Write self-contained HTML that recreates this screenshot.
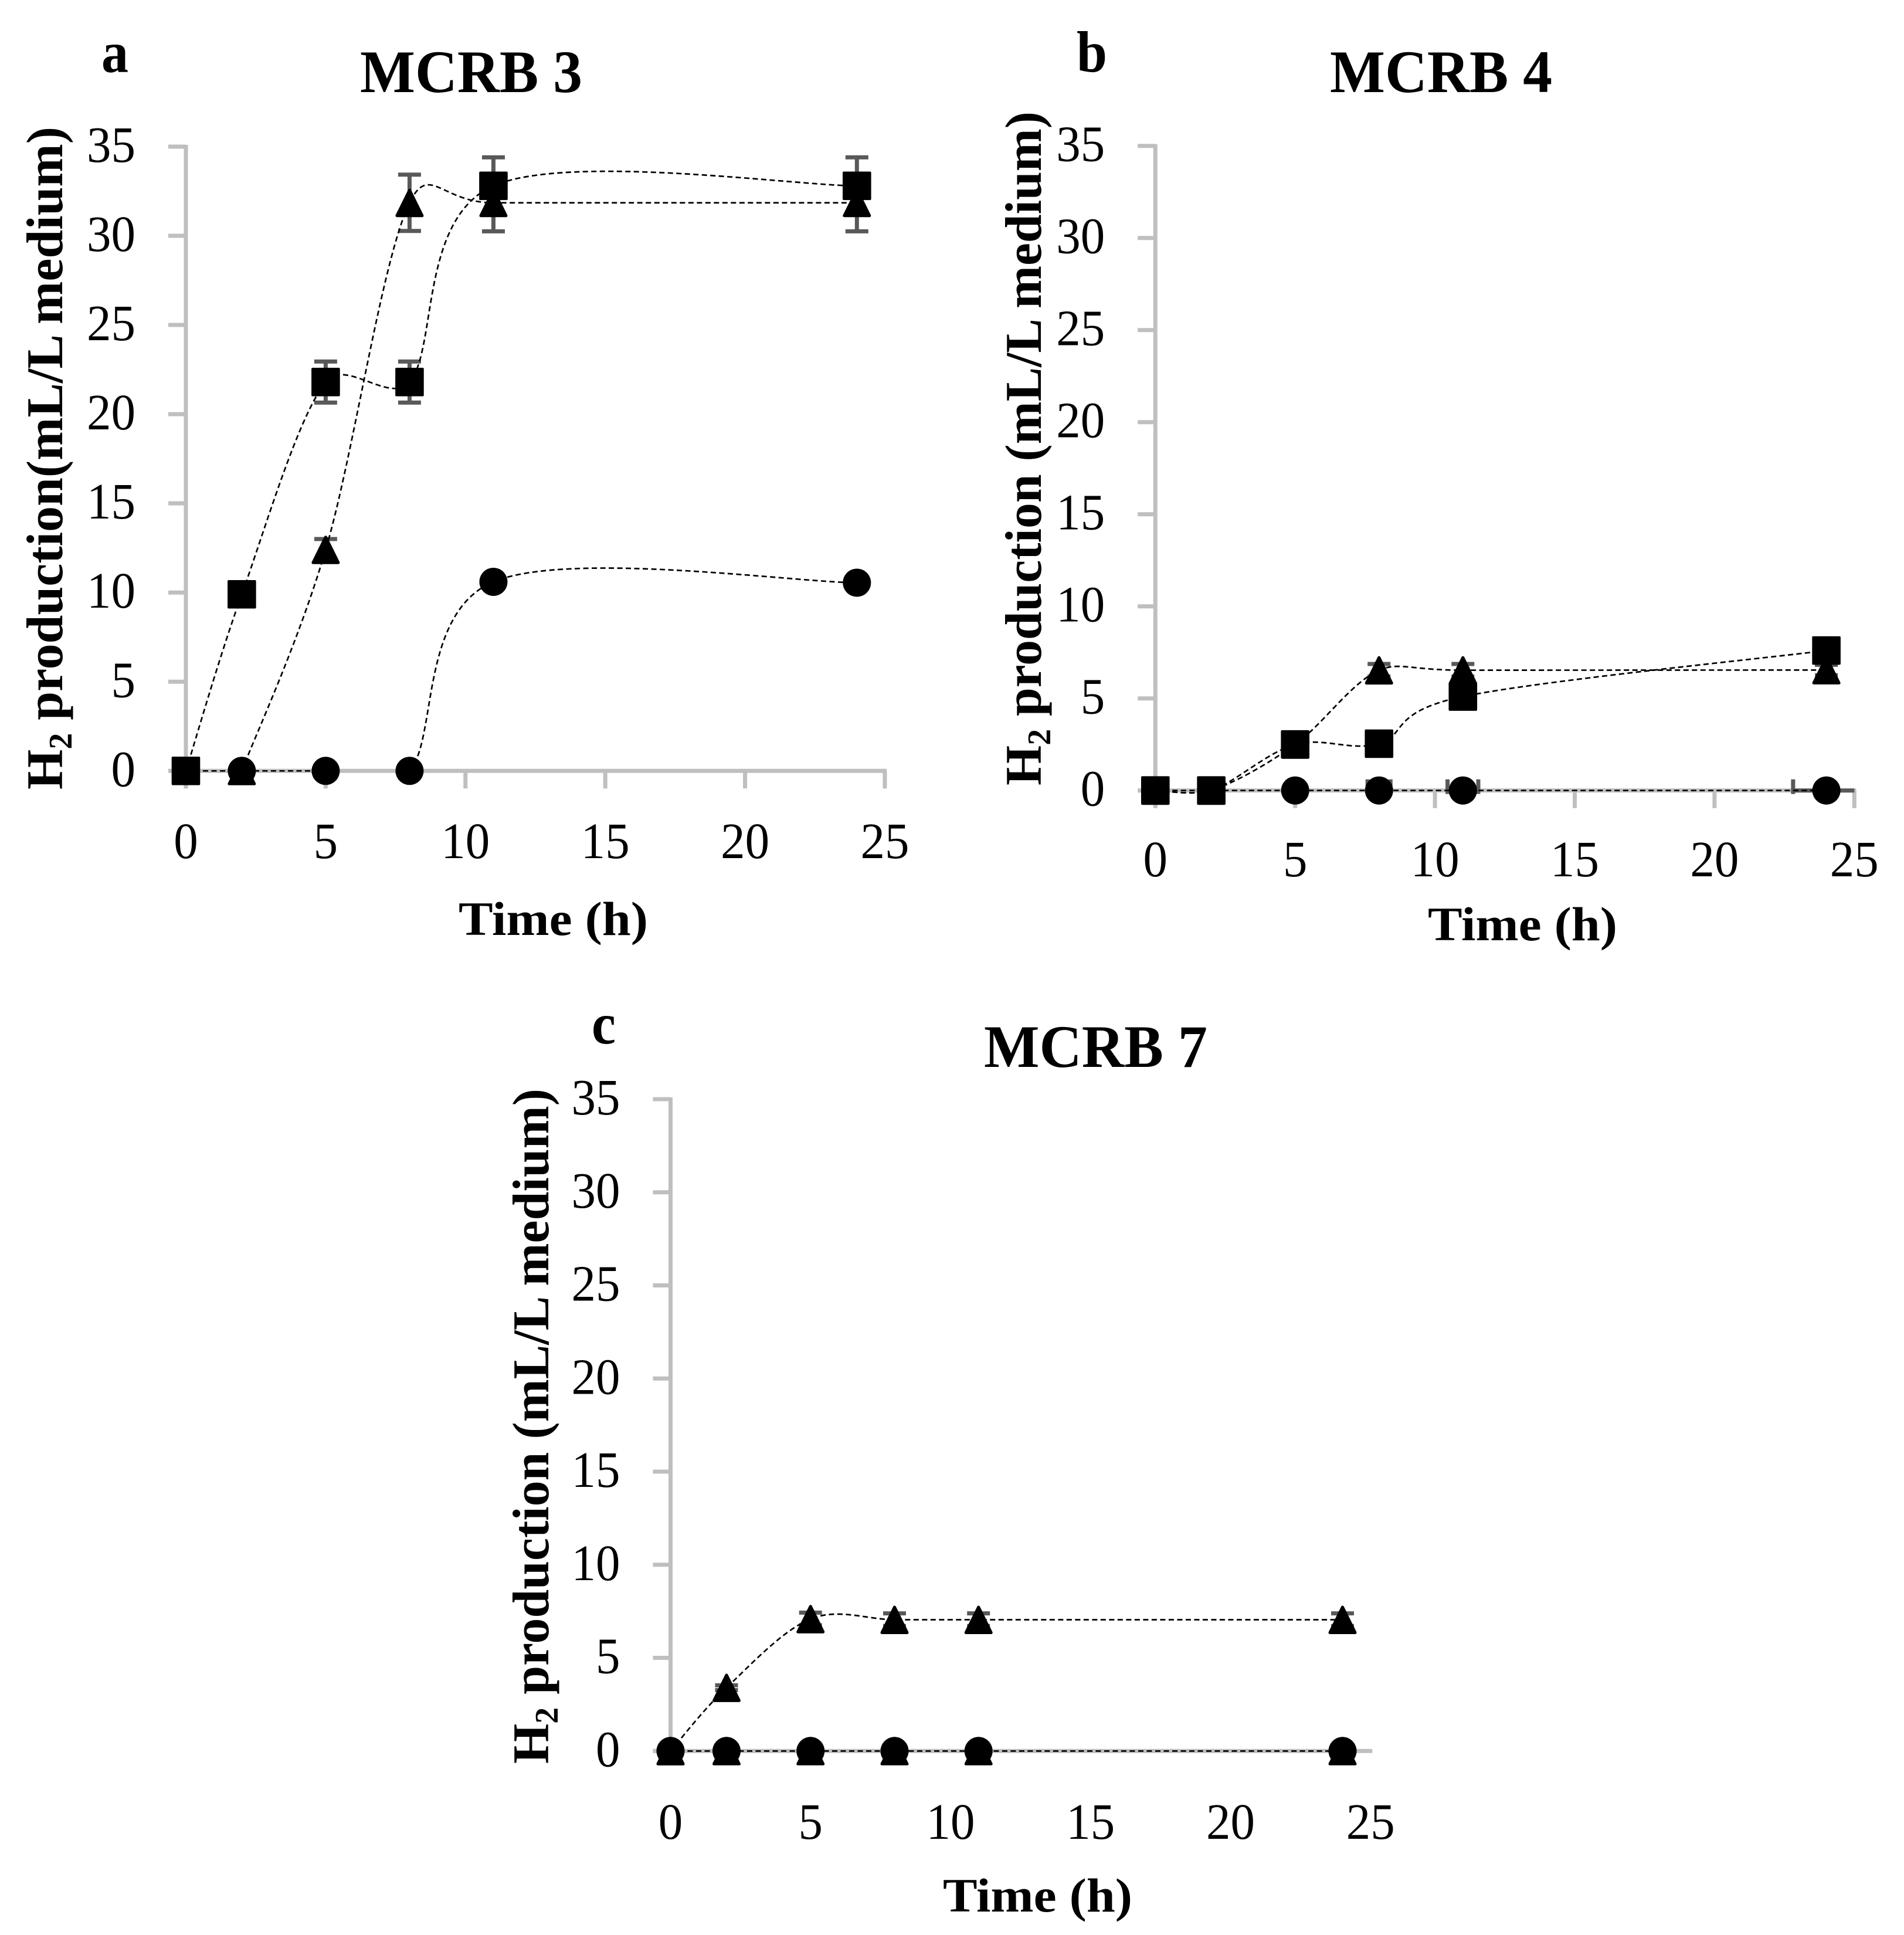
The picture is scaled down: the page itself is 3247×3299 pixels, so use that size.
<!DOCTYPE html>
<html lang="en">
<head>
<meta charset="utf-8">
<title>Hydrogen production of MCRB 3, MCRB 4 and MCRB 7</title>
<style>
html,body{margin:0;padding:0;background:#fff}
svg{display:block}
text{font-family:"Liberation Serif",serif;fill:#000}
.bold{font-weight:bold}
</style>
</head>
<body>
<svg id="figure" xmlns="http://www.w3.org/2000/svg" width="3247" height="3299" viewBox="0 0 3247 3299">
<rect width="3247" height="3299" fill="#fff"/>

<text class="bold" x="173" y="123" font-size="100" textLength="46" lengthAdjust="spacingAndGlyphs">a</text>
<text class="bold" x="614" y="157" font-size="103" textLength="379" lengthAdjust="spacingAndGlyphs">MCRB 3</text>
<text class="bold" transform="translate(106,1346) rotate(-90)" font-size="88" textLength="1130" lengthAdjust="spacingAndGlyphs">H<tspan font-size="56" dy="16">2</tspan><tspan dy="-16"> production(mL/L medium)</tspan></text>
<text class="bold" x="782" y="1594" font-size="82" textLength="323" lengthAdjust="spacingAndGlyphs">Time (h)</text>

<text class="bold" x="1836" y="122" font-size="100" textLength="52" lengthAdjust="spacingAndGlyphs">b</text>
<text class="bold" x="2268" y="157" font-size="103" textLength="379" lengthAdjust="spacingAndGlyphs">MCRB 4</text>
<text class="bold" transform="translate(1775,1339) rotate(-90)" font-size="88" textLength="1149" lengthAdjust="spacingAndGlyphs">H<tspan font-size="56" dy="16">2</tspan><tspan dy="-16"> production (mL/L medium)</tspan></text>
<text class="bold" x="2435" y="1603" font-size="82" textLength="323" lengthAdjust="spacingAndGlyphs">Time (h)</text>

<text class="bold" x="1009" y="1779" font-size="100" textLength="41" lengthAdjust="spacingAndGlyphs">c</text>
<text class="bold" x="1678" y="1819" font-size="103" textLength="381" lengthAdjust="spacingAndGlyphs">MCRB 7</text>
<text class="bold" transform="translate(935,3007) rotate(-90)" font-size="88" textLength="1151" lengthAdjust="spacingAndGlyphs">H<tspan font-size="56" dy="16">2</tspan><tspan dy="-16"> production (mL/L medium)</tspan></text>
<text class="bold" x="1608" y="3259" font-size="82" textLength="323" lengthAdjust="spacingAndGlyphs">Time (h)</text>
</svg>

<script>
// Shared data
const hours = [0, 2, 5, 8, 11, 24];
const xTickLabels = [0, 5, 10, 15, 20, 25];
const yTickLabels = [0, 5, 10, 15, 20, 25, 30, 35];

// Panel a: MCRB 3
const aSquare = [0, 9.9, 21.8, 21.8, 32.8, 32.8];
const aTriangle = [null, 0, 12.4, 31.85, 31.85, 31.85];
const aCircle = [0, 0, 0, 0, 10.6, 10.55];
const aSquareErr = [0, 0.2, 1.15, 1.15, 1.6, 1.6];
const aTriangleErr = [0, 0, 0.6, 1.58, 1.6, 1.6];
const aCircleErr = [0, 0, 0, 0, 0, 0];
const aCircleXErr = [0, 0, 0, 0, 0, 0];
// the 5 h to 8 h stretch of the circle line is not drawn in the figure
const aCircleHiddenSegments = [2];

// Panel b: MCRB 4
const bSquare = [0, 0, 2.5, 2.54, 5.1, 7.6];
const bTriangle = [0, 0, 2.5, 6.53, 6.53, 6.54];
const bCircle = [0, 0, 0, 0, 0, 0];
const bSquareErr = [0, 0, 0, 0, 0, 0];
const bTriangleErr = [0, 0, 0, 0.34, 0.34, 0.28];
const bCircleErr = [0, 0, 0, 0, 0, 0];
const bCircleXErr = [0, 0, 0, 0.41, 0.55, 1.19];

// Panel c: MCRB 7
const cTriangleMain = [0, 3.4, 7.09, 7.05, 7.05, 7.05];
const cTriangleZero = [0, 0, 0, 0, 0, 0];
const cCircle = [0, 0, 0, 0, 0, 0];
const cTriangleMainErr = [0, 0.13, 0.34, 0.34, 0.34, 0.34];
const cZeroErr = [0, 0, 0, 0, 0, 0];

const NS = 'http://www.w3.org/2000/svg';
const AXIS = '#bfbfbf', ERR = '#595959';
const svg = document.getElementById('figure');

function make(tag, attrs, parent) {
  const el = document.createElementNS(NS, tag);
  for (const k in attrs) el.setAttribute(k, attrs[k]);
  parent.appendChild(el);
  return el;
}

// Excel-style smoothed line through the data points
function smoothPath(pts, hidden) {
  let d = 'M' + pts[0][0] + ' ' + pts[0][1];
  for (let i = 0; i < pts.length - 1; i++) {
    const p0 = pts[Math.max(i - 1, 0)], p1 = pts[i], p2 = pts[i + 1], p3 = pts[Math.min(i + 2, pts.length - 1)];
    // short flat stretches overshoot less in the source chart
    const k = (p1[1] === p2[1] && p2[0] - p1[0] < 200) ? 0.7 : 1;
    const c1x = p1[0] + k * (p2[0] - p0[0]) / 6, c1y = p1[1] + k * (p2[1] - p0[1]) / 6;
    const c2x = p2[0] - k * (p3[0] - p1[0]) / 6, c2y = p2[1] - k * (p3[1] - p1[1]) / 6;
    if (hidden && hidden.includes(i)) {
      d += 'M' + p2[0] + ' ' + p2[1];
    } else {
      d += 'C' + c1x + ' ' + c1y + ' ' + c2x + ' ' + c2y + ' ' + p2[0] + ' ' + p2[1];
    }
  }
  return d;
}

function drawMarker(kind, cx, cy, g) {
  if (kind === 'circle') return make('circle', {cx: cx, cy: cy, r: 24, fill: '#000'}, g);
  if (kind === 'square') return make('rect', {x: cx - 22.3, y: cy - 22.3, width: 44.6, height: 44.6, fill: '#000', stroke: '#000', 'stroke-width': 4, 'stroke-linejoin': 'round'}, g);
  const pts = [[cx, cy - 21.5], [cx + 21.5, cy + 22], [cx - 21.5, cy + 22]].map(p => p.join(',')).join(' ');
  return make('polygon', {points: pts, fill: '#000', stroke: '#000', 'stroke-width': 5, 'stroke-linejoin': 'round'}, g);
}

function drawPanel(p) {
  const xs = v => p.x0 + v * p.ux;
  const ys = v => p.y0 - v * p.uy;

  const root = make('g', {}, svg);
  
  

  const axes = make('g', {stroke: AXIS, 'stroke-width': 7, fill: 'none'}, root);
  
  

  const yLine = make('line', {x1: xs(0), x2: xs(0), y1: ys(35) - 3, y2: ys(0) + (p.xTicks ? 30 : 3)}, axes);
  
  

  const xLine = make('line', {x1: xs(0) - 30, x2: xs(25) + 3, y1: ys(0), y2: ys(0)}, axes);
  
  

  yTickLabels.forEach(t => {
    const tick = make('line', {x1: xs(0) - 30, x2: xs(0), y1: ys(t), y2: ys(t)}, axes);
    
    

    const s = String(t);
    const label = make('text', {x: xs(0) - 86, y: ys(t) + 26, 'font-size': 87, 'text-anchor': 'end', textLength: s.length * 41.5, lengthAdjust: 'spacingAndGlyphs'}, root);
    label.textContent = s;
    
    
  });

  xTickLabels.forEach(t => {
    if (p.xTicks) {
      const tick = make('line', {x1: xs(t), x2: xs(t), y1: ys(0), y2: ys(0) + 30}, axes);
      
      
    }
    const s = String(t);
    const label = make('text', {x: xs(t), y: p.xLabelY, 'font-size': 87, 'text-anchor': 'middle', textLength: s.length * 41.5, lengthAdjust: 'spacingAndGlyphs'}, root);
    label.textContent = s;
    
    
  });

  // error bars
  p.series.forEach(s => {
    const g = make('g', {stroke: ERR, 'stroke-width': 7, fill: 'none'}, root);
    
    
    hours.forEach((h, i) => {
      if (s.values[i] === null) return;
      const e = s.err[i];
      if (e > 0) {
        make('line', {x1: xs(h), x2: xs(h), y1: ys(s.values[i] + e), y2: ys(s.values[i] - e)}, g);
        make('line', {x1: xs(h) - 19.5, x2: xs(h) + 19.5, y1: ys(s.values[i] + e), y2: ys(s.values[i] + e)}, g);
        make('line', {x1: xs(h) - 19.5, x2: xs(h) + 19.5, y1: ys(s.values[i] - e), y2: ys(s.values[i] - e)}, g);
      }
      const xe = s.xErr ? s.xErr[i] : 0;
      if (xe > 0) {
        const cy = ys(s.values[i]);
        const right = Math.min(h + xe, 25);
        make('line', {x1: xs(h - xe), x2: xs(right), y1: cy, y2: cy}, g);
        make('line', {x1: xs(h - xe), x2: xs(h - xe), y1: cy - 19, y2: cy + 6}, g);
        if (h + xe <= 25) make('line', {x1: xs(h + xe), x2: xs(h + xe), y1: cy - 19, y2: cy + 6}, g);
      }
    });
  });

  // smoothed dashed lines
  p.series.forEach(s => {
    const pts = [];
    hours.forEach((h, i) => {
      if (s.values[i] !== null) pts.push([xs(h), ys(s.values[i])]);
    });
    const line = make('path', {d: smoothPath(pts, s.hiddenSegments), fill: 'none', stroke: '#000', 'stroke-width': 2.7, 'stroke-dasharray': '9 5.5'}, root);
    
    
  });

  // markers
  p.series.forEach(s => {
    const g = make('g', {}, root);
    
    
    hours.forEach((h, i) => {
      if (s.values[i] === null) return;
      const m = drawMarker(s.kind, xs(h), ys(s.values[i]), g);
      
      
    });
  });
}

drawPanel({id: 'a', x0: 317, y0: 1314.3, ux: 47.68, uy: 30.41, xTicks: true, xLabelY: 1463, series: [
  {name: 'a-triangle', kind: 'triangle', values: aTriangle, err: aTriangleErr},
  {name: 'a-circle', kind: 'circle', values: aCircle, err: aCircleErr, xErr: aCircleXErr, hiddenSegments: aCircleHiddenSegments},
  {name: 'a-square', kind: 'square', values: aSquare, err: aSquareErr}
]});

drawPanel({id: 'b', x0: 1970.3, y0: 1347.7, ux: 47.68, uy: 31.4, xTicks: true, xLabelY: 1494, series: [
  {name: 'b-triangle', kind: 'triangle', values: bTriangle, err: bTriangleErr},
  {name: 'b-circle', kind: 'circle', values: bCircle, err: bCircleErr, xErr: bCircleXErr},
  {name: 'b-square', kind: 'square', values: bSquare, err: bSquareErr}
]});

drawPanel({id: 'c', x0: 1143.5, y0: 2985.3, ux: 47.75, uy: 31.75, xTicks: false, xLabelY: 3135, series: [
  {name: 'c-triangle-main', kind: 'triangle', values: cTriangleMain, err: cTriangleMainErr},
  {name: 'c-triangle-zero', kind: 'triangle', values: cTriangleZero, err: cZeroErr},
  {name: 'c-circle', kind: 'circle', values: cCircle, err: cZeroErr}
]});
</script>
</body>
</html>
